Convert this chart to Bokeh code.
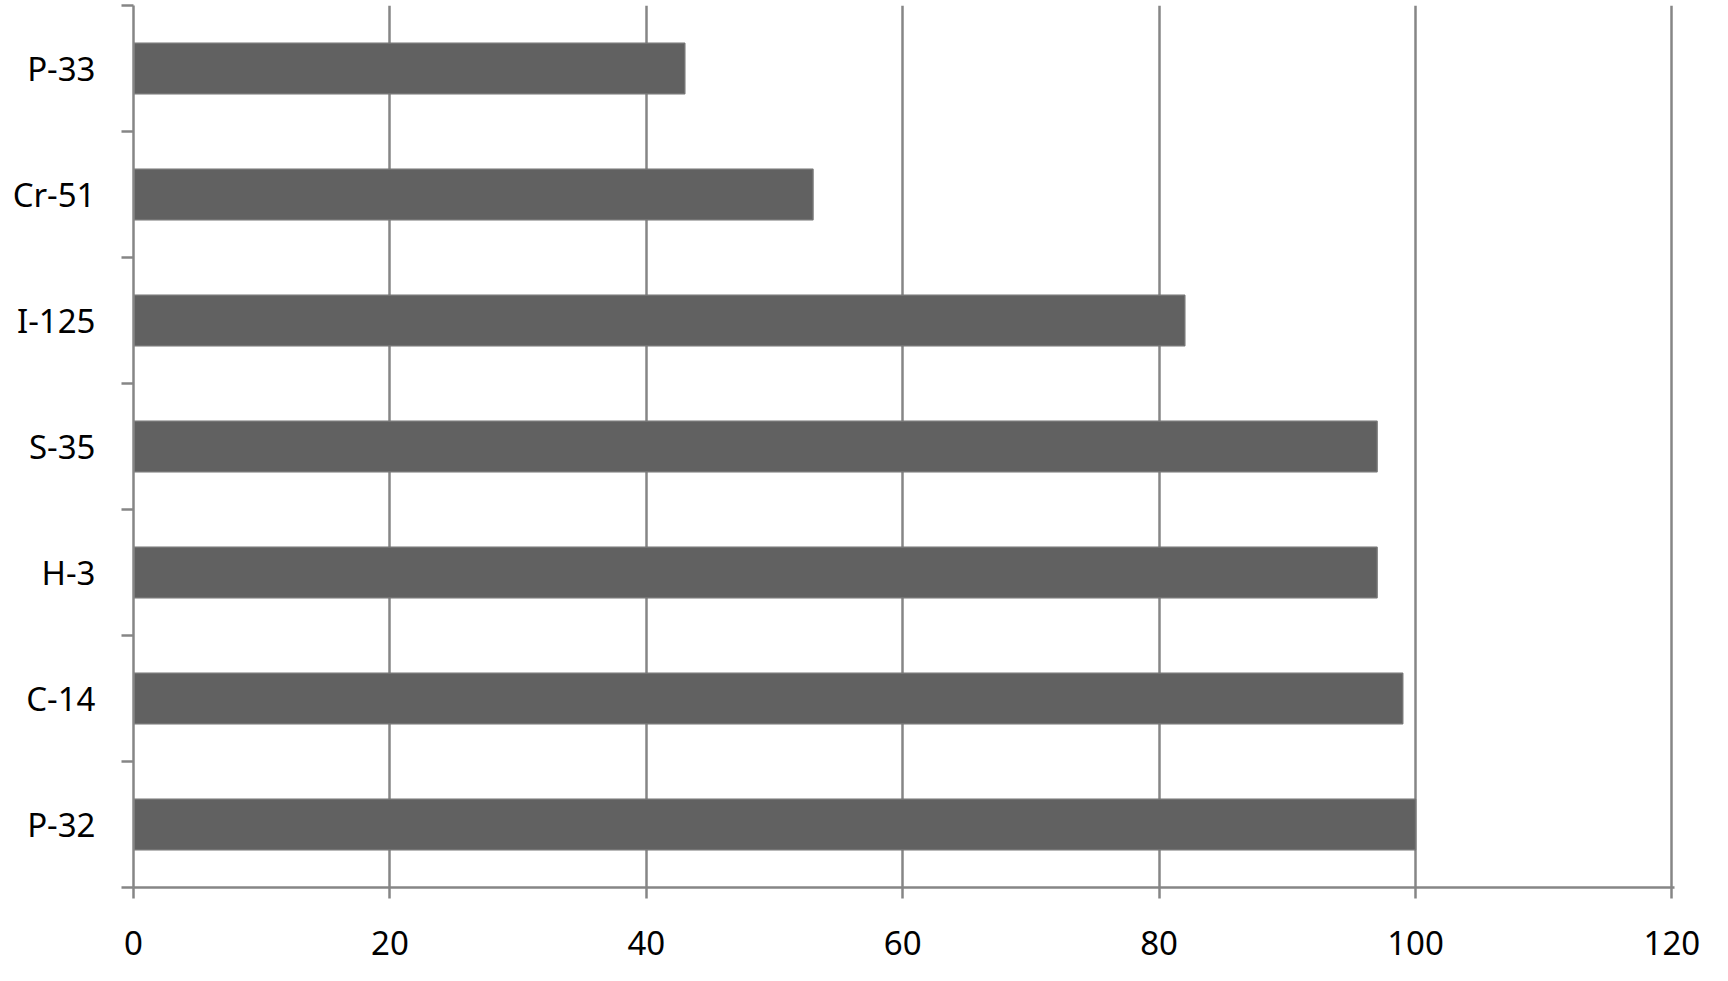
from bokeh.plotting import figure
from bokeh.models import FixedTicker, Range1d, ColumnDataSource
from bokeh.embed import file_html
from bokeh.resources import INLINE

# Data (bottom to top)
isotopes = ["P-32", "C-14", "H-3", "S-35", "I-125", "Cr-51", "P-33"]
values = [100, 99, 97, 97, 82, 53, 43]
x_ticks = [0, 20, 40, 60, 80, 100, 120]

n = len(isotopes)
centers = [i + 0.5 for i in range(n)]
src = ColumnDataSource(dict(y=centers, v=values, name=isotopes))

GRAY = "#868686"
FONT = "Noto Sans"

p = figure(width=1712, height=965, output_backend="svg", toolbar_location=None,
           x_range=Range1d(0, 120.2), y_range=Range1d(0, n),
           min_border_left=133, min_border_right=38, min_border_top=5, min_border_bottom=78)
p.outline_line_color = None

p.hbar(y="y", right="v", left=0, height=0.4, source=src,
       fill_color="#616161", line_color="#747474", line_width=1.5)

# x axis
xa = p.xaxis[0]
xa.ticker = FixedTicker(ticks=x_ticks)
xa.axis_line_color = GRAY
xa.axis_line_width = 2.5
xa.major_tick_line_color = GRAY
xa.major_tick_line_width = 2.5
xa.major_tick_in = 0
xa.major_tick_out = 11
xa.minor_tick_line_color = None
xa.major_label_text_font = FONT
xa.major_label_text_font_size = "33px"
xa.major_label_text_color = "#000000"
xa.major_label_standoff = 32

# y axis
ya = p.yaxis[0]
ya.ticker = FixedTicker(ticks=centers, minor_ticks=list(range(n + 1)))
ya.major_label_overrides = {c: name for c, name in zip(centers, isotopes)}
ya.axis_line_color = GRAY
ya.axis_line_width = 2.5
ya.major_tick_line_color = None
ya.major_tick_in = 0
ya.major_tick_out = 0
ya.minor_tick_line_color = GRAY
ya.minor_tick_line_width = 2.5
ya.minor_tick_in = 0
ya.minor_tick_out = 12
ya.major_label_text_font = FONT
ya.major_label_text_font_size = "33px"
ya.major_label_text_color = "#000000"
ya.major_label_standoff = 26

p.xgrid.grid_line_color = GRAY
p.xgrid.grid_line_width = 2.5
p.ygrid.grid_line_color = None

open("out.html", "w").write(file_html(p, INLINE))
